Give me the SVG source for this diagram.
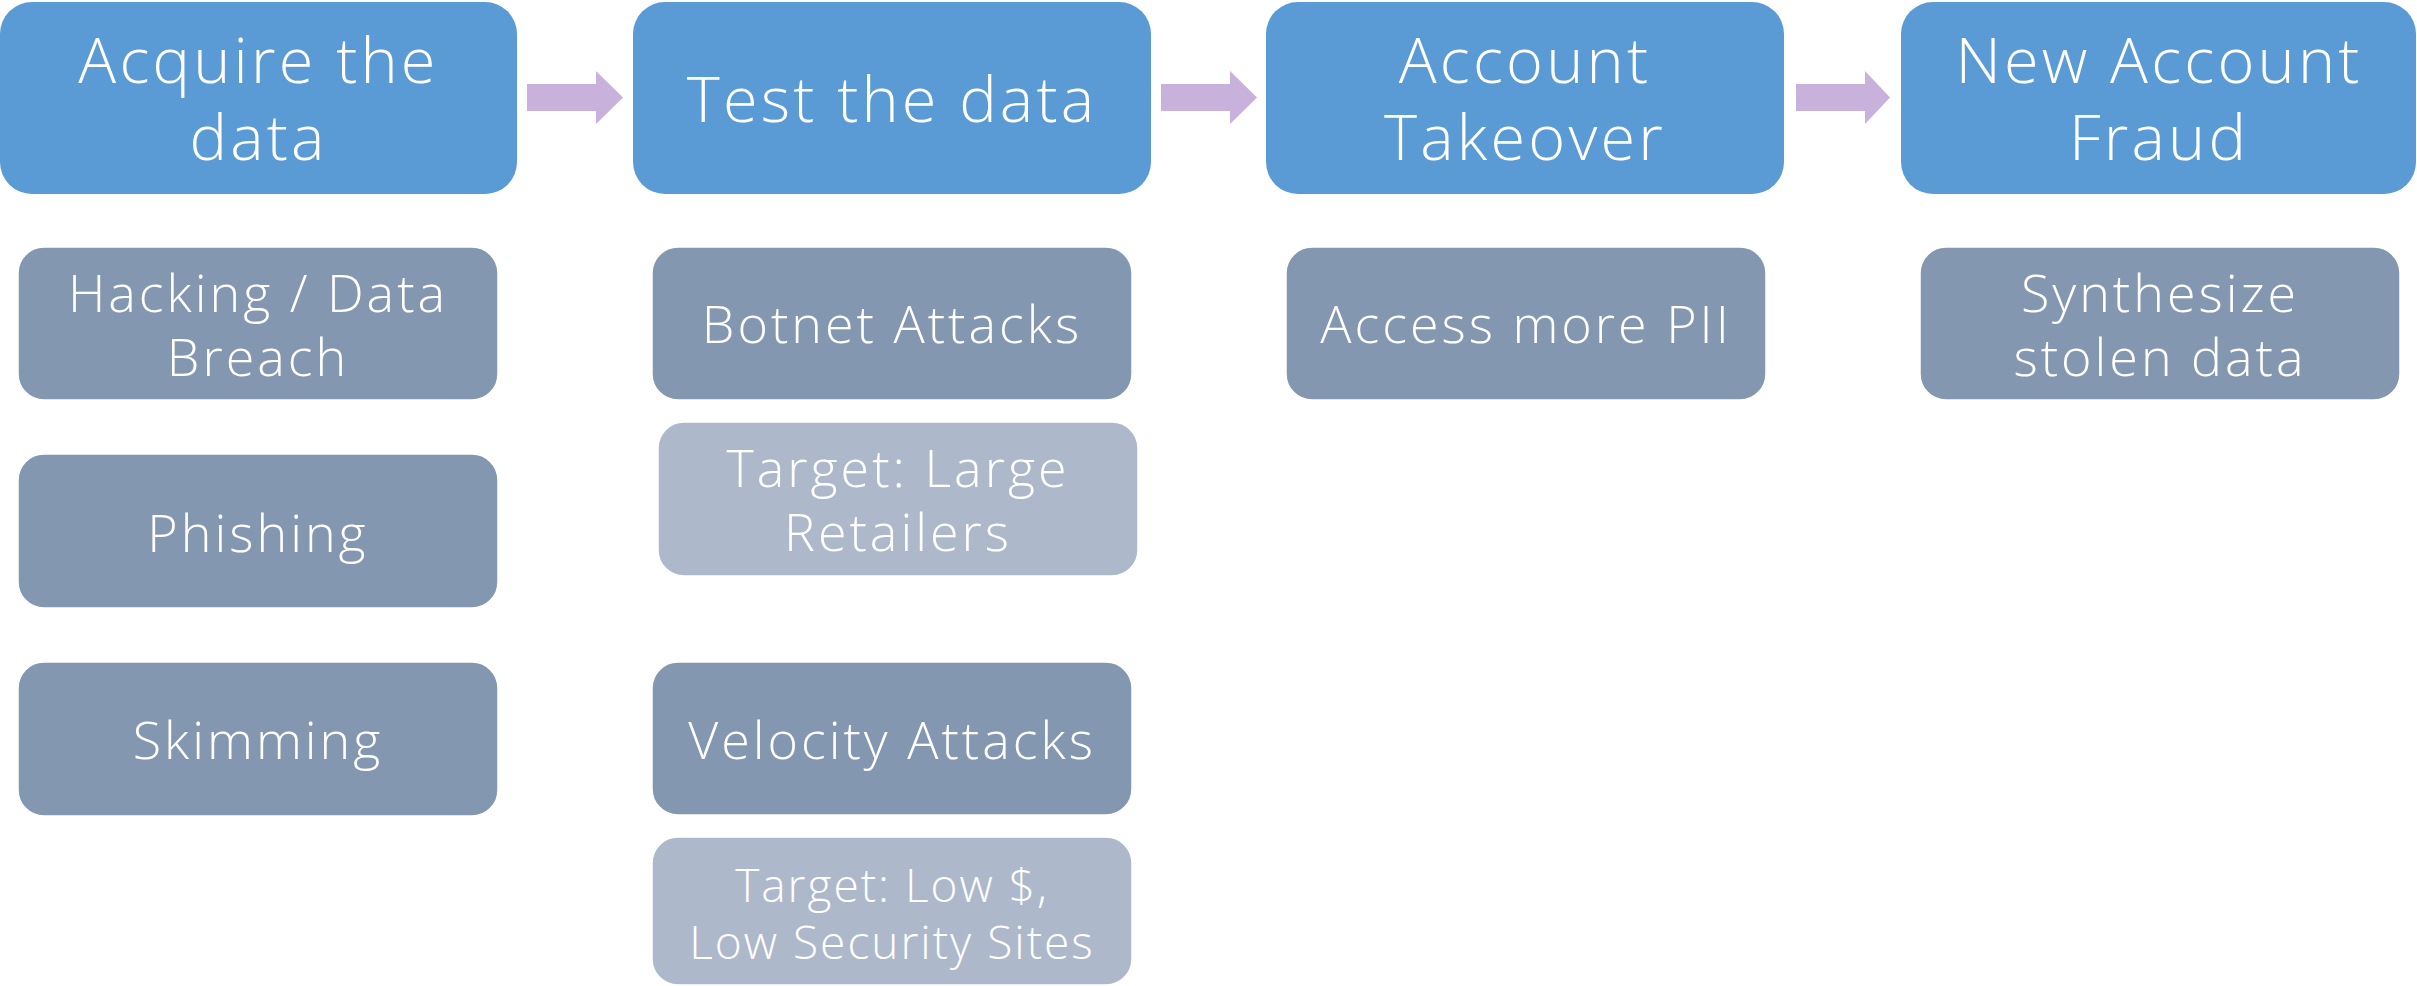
<svg xmlns="http://www.w3.org/2000/svg" width="2417" height="986" viewBox="0 0 2417 986">
<style>
.hdr{fill:#5B9BD5}
.sub{fill:#8497B0;stroke:#ffffff;stroke-width:1.5}
.lt{fill:#ADB9CA;stroke:#ffffff;stroke-width:1.5}
.arr{fill:#C8B2DB}
text{font-family:"Open Sans","Liberation Sans",sans-serif;font-weight:300;fill:#ffffff;text-anchor:middle}
.h{font-size:63px;letter-spacing:3.2px}
.s{font-size:52px;letter-spacing:3px}
.t{font-size:46px;letter-spacing:2px}
</style>
<rect width="2417" height="986" fill="#ffffff"/>
<g id="connectors">
<polygon class="arr" points="527,84 596,84 596,71 623,97.5 596,124 596,111 527,111"/>
<polygon class="arr" points="1161,84 1230,84 1230,71 1257,97.5 1230,124 1230,111 1161,111"/>
<polygon class="arr" points="1796,84 1865,84 1865,71 1890,97.5 1865,124 1865,111 1796,111"/>
</g>
<g id="acquire"><rect class="hdr" x="0" y="2" width="517" height="192" rx="32"/><text class="h" x="258.5" y="83">Acquire the</text><text class="h" x="258.5" y="160">data</text></g>
<g id="test"><rect class="hdr" x="633" y="2" width="518" height="192" rx="32"/><text class="h" x="892" y="122">Test the data</text></g>
<g id="ato"><rect class="hdr" x="1266" y="2" width="518" height="192" rx="32"/><text class="h" x="1525" y="83">Account</text><text class="h" x="1525" y="160">Takeover</text></g>
<g id="naf"><rect class="hdr" x="1901" y="2" width="515" height="192" rx="32"/><text class="h" x="2159" y="83">New Account</text><text class="h" x="2159" y="160">Fraud</text></g>
<g id="hacking"><rect class="sub" x="18" y="247" width="480" height="153" rx="26"/><text class="s" x="258" y="312">Hacking / Data</text><text class="s" x="258" y="376">Breach</text></g>
<g id="phishing"><rect class="sub" x="18" y="454" width="480" height="154" rx="26"/><text class="s" x="258" y="552">Phishing</text></g>
<g id="skimming"><rect class="sub" x="18" y="662" width="480" height="154" rx="26"/><text class="s" x="258" y="759">Skimming</text></g>
<g id="botnet"><rect class="sub" x="652" y="247" width="480" height="153" rx="26"/><text class="s" x="892" y="343">Botnet Attacks</text></g>
<g id="target-large"><rect class="lt" x="658" y="422" width="480" height="154" rx="26"/><text class="s" x="898" y="487">Target: Large</text><text class="s" x="898" y="551">Retailers</text></g>
<g id="velocity"><rect class="sub" x="652" y="662" width="480" height="153" rx="26"/><text class="s" x="892" y="759">Velocity Attacks</text></g>
<g id="target-low"><rect class="lt" x="652" y="837" width="480" height="148" rx="26"/><text class="t" x="892" y="902">Target: Low $,</text><text class="t" x="892" y="959">Low Security Sites</text></g>
<g id="access"><rect class="sub" x="1286" y="247" width="480" height="153" rx="26"/><text class="s" x="1526" y="343">Access more PII</text></g>
<g id="synth"><rect class="sub" x="1920" y="247" width="480" height="153" rx="26"/><text class="s" x="2160" y="312">Synthesize</text><text class="s" x="2160" y="376">stolen data</text></g>
</svg>
